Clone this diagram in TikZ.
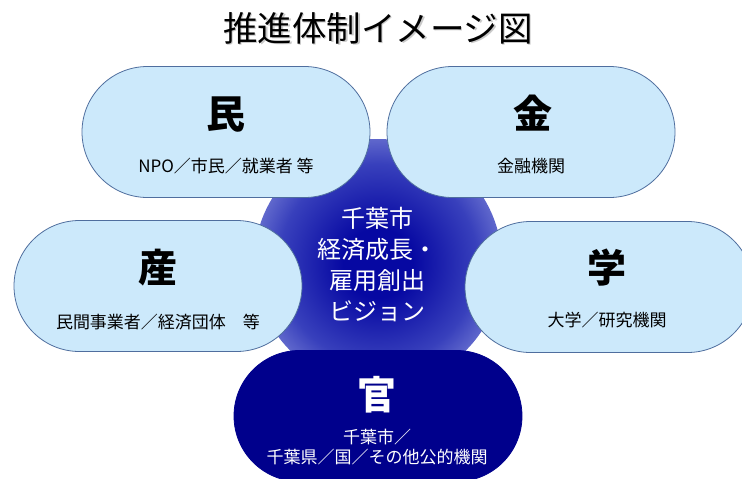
\documentclass[tikz,border=0pt]{standalone}
\usepackage{fontspec}
\setmainfont{Noto Sans CJK JP}
\usetikzlibrary{shapes.misc}
\definecolor{ovalfill}{HTML}{CCE9FB}
\definecolor{ovalline}{HTML}{4F6E9E}
\definecolor{navy}{HTML}{00008C}
\definecolor{lav}{HTML}{B6BEEF}
\definecolor{core}{HTML}{0608A2}
\definecolor{midblue}{HTML}{3840BC}
\pgfdeclareradialshading{visionshade}{\pgfpoint{0bp}{0bp}}{color(0bp)=(core); color(7bp)=(core); color(20bp)=(midblue); color(36bp)=(lav); color(50bp)=(lav)}
\tikzset{
  oval/.style={rounded rectangle, draw=ovalline, fill=ovalfill, line width=0.8pt,
    minimum width=288pt, minimum height=131pt, inner sep=0pt},
  govoval/.style={oval, draw=navy, fill=navy},
  bigchar/.style={inner sep=0pt, font=\fontsize{39}{45}\selectfont\bfseries},
  subtext/.style={inner sep=0pt, font=\fontsize{17}{21}\selectfont},
}
\begin{document}
\begin{tikzpicture}[x=1pt,y=-1pt]
\useasboundingbox (0,0) rectangle (742,479);
\clip (0,0) rectangle (742,479);
\fill[white] (0,0) rectangle (742,479);
% title
\node[inner sep=0pt, text=black!35, opacity=0.6, font=\fontsize{34.5}{40}\selectfont] (titleshadow) at (379.5,29.5) {推進体制イメージ図};
\node[inner sep=0pt, font=\fontsize{34.5}{40}\selectfont] (title) at (378,28) {推進体制イメージ図};
% central circle
\node[circle, minimum size=248pt, inner sep=0pt, shade, shading=visionshade] (vision) at (378,263) {};
% ovals
\node[oval] (min) at (226,132) {};
\node[oval] (kin) at (531,132) {};
\node[oval] (san) at (158,286) {};
\node[oval] (gaku) at (609,287) {};
\node[govoval] (kan) at (378,416) {};
% vision text
\node[inner sep=0pt, text=white, align=center, font=\fontsize{24}{31}\selectfont] (visiontext) at (377,265) {千葉市\\経済成長・\\雇用創出\\ビジョン};
% oval texts
\node[bigchar] (mint) at (226,115) {民};
\node[subtext] (mins) at (226,166) {NPO／市民／就業者 等};
\node[bigchar] (kint) at (533,113) {金};
\node[subtext] (kins) at (531,166) {金融機関};
\node[bigchar] (sant) at (158,268) {産};
\node[subtext] (sans) at (158,322) {民間事業者／経済団体　等};
\node[bigchar] (gakut) at (607,268) {学};
\node[subtext] (gakus) at (607,320) {大学／研究機関};
\node[bigchar, text=white] (kant) at (377,395) {官};
\node[subtext, text=white, align=center, font=\fontsize{17}{20.5}\selectfont] (kans) at (377,447) {千葉市／\\千葉県／国／その他公的機関};
\end{tikzpicture}
\end{document}
